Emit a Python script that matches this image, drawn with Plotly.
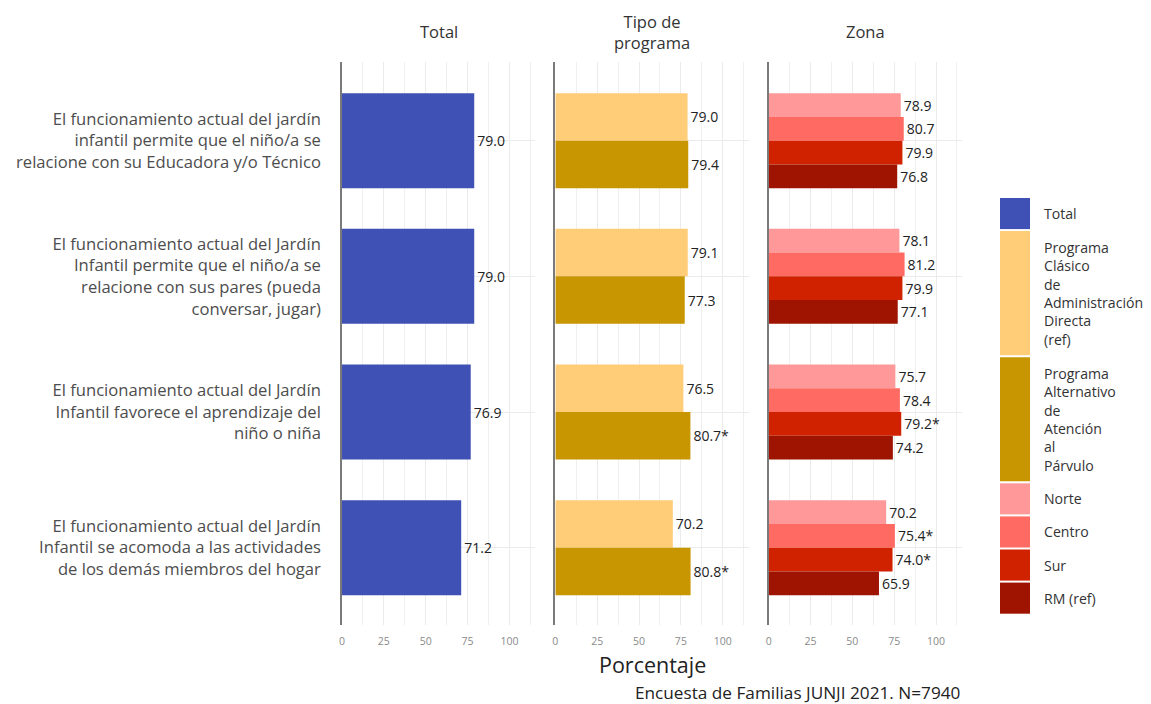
import plotly.graph_objects as go
from plotly.subplots import make_subplots

# ---------------- data ----------------
categories = [
    "El funcionamiento actual del jardín<br>infantil permite que el niño/a se<br>relacione con su Educadora y/o Técnico",
    "El funcionamiento actual del Jardín<br>Infantil permite que el niño/a se<br>relacione con sus pares (pueda<br>conversar, jugar)",
    "El funcionamiento actual del Jardín<br>Infantil favorece el aprendizaje del<br>niño o niña",
    "El funcionamiento actual del Jardín<br>Infantil se acomoda a las actividades<br>de los demás miembros del hogar",
]
facet_titles = ["Total", "Tipo de<br>programa", "Zona"]
x_ticks = [0, 25, 50, 75, 100]

total = [79.0, 79.0, 76.9, 71.2]
total_sig = ["", "", "", ""]
clasico = [79.0, 79.1, 76.5, 70.2]
clasico_sig = ["", "", "", ""]
alternativo = [79.4, 77.3, 80.7, 80.8]
alternativo_sig = ["", "", "*", "*"]
norte = [78.9, 78.1, 75.7, 70.2]
norte_sig = ["", "", "", ""]
centro = [80.7, 81.2, 78.4, 75.4]
centro_sig = ["", "", "", "*"]
sur = [79.9, 79.9, 79.2, 74.0]
sur_sig = ["", "", "*", "*"]
rm = [76.8, 77.1, 74.2, 65.9]
rm_sig = ["", "", "", ""]

series_names = ["Total", "Programa Clásico de Administración Directa (ref)",
                "Programa Alternativo de Atención al Párvulo",
                "Norte", "Centro", "Sur", "RM (ref)"]
legend_labels = ["Total",
                 "Programa<br>Clásico<br>de<br>Administración<br>Directa<br>(ref)",
                 "Programa<br>Alternativo<br>de<br>Atención<br>al<br>Párvulo",
                 "Norte", "Centro", "Sur", "RM (ref)"]
series_values = [total, clasico, alternativo, norte, centro, sur, rm]
series_sig = [total_sig, clasico_sig, alternativo_sig, norte_sig, centro_sig, sur_sig, rm_sig]
series_facet = [1, 2, 2, 3, 3, 3, 3]
colors = ["#3F51B5", "#FFCD78", "#C89600", "#FF9999", "#FF6B63", "#D12200", "#9E1400"]

FONT = "Open Sans"

# ---------------- figure ----------------
OFF = 8  # page body margin
W, H = 1151 - OFF, 704 - OFF
L, R, T, B = 342 - OFF, 962 - OFF, 62 - OFF, 625 - OFF
gap_px = 20
fig = make_subplots(rows=1, cols=3, shared_yaxes=True,
                    horizontal_spacing=gap_px / (R - L))

for name, vals, sig, col, color in zip(series_names, series_values, series_sig,
                                       series_facet, colors):
    fig.add_trace(go.Bar(
        y=categories, x=vals, orientation="h", name=name,
        marker=dict(color=color, line=dict(width=0)),
        text=[f"{v:.1f}{s}" for v, s in zip(vals, sig)],
        textposition="outside", constraintext="none", cliponaxis=False,
        textfont=dict(family=FONT, size=14, color="#222222"),
        showlegend=False, hoverinfo="skip",
    ), row=1, col=col)

fig.update_layout(
    width=W, height=H, barmode="group", bargap=0.3,
    margin=dict(l=L, r=W - R, t=T, b=H - B, pad=0, autoexpand=False),
    plot_bgcolor="white", paper_bgcolor="white",
    font=dict(family=FONT, color="#333333"),
)

n_cat = len(categories)
for i in range(1, 4):
    fig.update_xaxes(
        range=[0, 115.5], tickvals=x_ticks, ticktext=[str(t) for t in x_ticks],
        showgrid=True, gridcolor="#EBEBEB", gridwidth=1.2,
        minor=dict(dtick=12.5, tick0=0, showgrid=True, gridcolor="#EFEFEF", gridwidth=1),
        zeroline=False, showline=False, ticks="", automargin=False,
        tickfont=dict(family=FONT, size=10.5, color="#8A8A8A"),
        ticklabelstandoff=8, fixedrange=True,
        row=1, col=i)
    fig.update_yaxes(
        range=[n_cat - 1 + 0.57, -0.58], showgrid=True, gridcolor="#EBEBEB", gridwidth=1.2,
        showline=True, linecolor="#7A7A7A", linewidth=1.6,
        zeroline=False, ticks="", automargin=False,
        row=1, col=i)

fig.update_yaxes(tickfont=dict(family=FONT, size=16.6, color="#4D4D4D"),
                 ticklabelstandoff=16, row=1, col=1)

annotations = []
pw = (R - L)
dom_w = (pw - 2 * gap_px) / 3
for i, t in enumerate(facet_titles):
    cx = (i * (dom_w + gap_px) + dom_w / 2) / pw
    annotations.append(dict(text=t, x=cx, y=1 + (62 - 32) / (B - T), xref="paper", yref="paper",
                            xanchor="center", yanchor="middle", showarrow=False,
                            font=dict(family=FONT, size=16.5, color="#333333")))

annotations.append(dict(text="Porcentaje", x=0.5, y=-(664 - 625) / (B - T), xref="paper", yref="paper",
                        xanchor="center", yanchor="middle", showarrow=False,
                        font=dict(family=FONT, size=21.5, color="#222222")))
annotations.append(dict(text="Encuesta de Familias JUNJI 2021. N=7940", x=1, y=-(692 - 625) / (B - T),
                        xref="paper", yref="paper", xanchor="right", yanchor="middle",
                        showarrow=False, font=dict(family=FONT, size=17.2, color="#222222")))

# ---------------- custom legend (tall keys, like ggplot) ----------------
def px_x(p):  # page pixel -> paper
    return (p - OFF - L) / (R - L)

def px_y(p):
    return (B - (p - OFF)) / (B - T)

shapes = []
y_cursor = 198
line_h = 18.6
for lab, color in zip(legend_labels, colors):
    n = lab.count("<br>") + 1
    h = 12.5 + line_h * n
    shapes.append(dict(type="rect", xref="paper", yref="paper",
                       x0=px_x(1000), x1=px_x(1030), y0=px_y(y_cursor + h), y1=px_y(y_cursor),
                       fillcolor=color, line=dict(width=0), layer="above"))
    annotations.append(dict(text=lab, x=px_x(1042), y=px_y(y_cursor + h / 2),
                            xref="paper", yref="paper", xanchor="left", yanchor="middle",
                            align="left", showarrow=False,
                            font=dict(family=FONT, size=14.1, color="#333333")))
    y_cursor += h + 2

fig.update_layout(annotations=annotations, shapes=shapes)

fig.write_html("out.html")
